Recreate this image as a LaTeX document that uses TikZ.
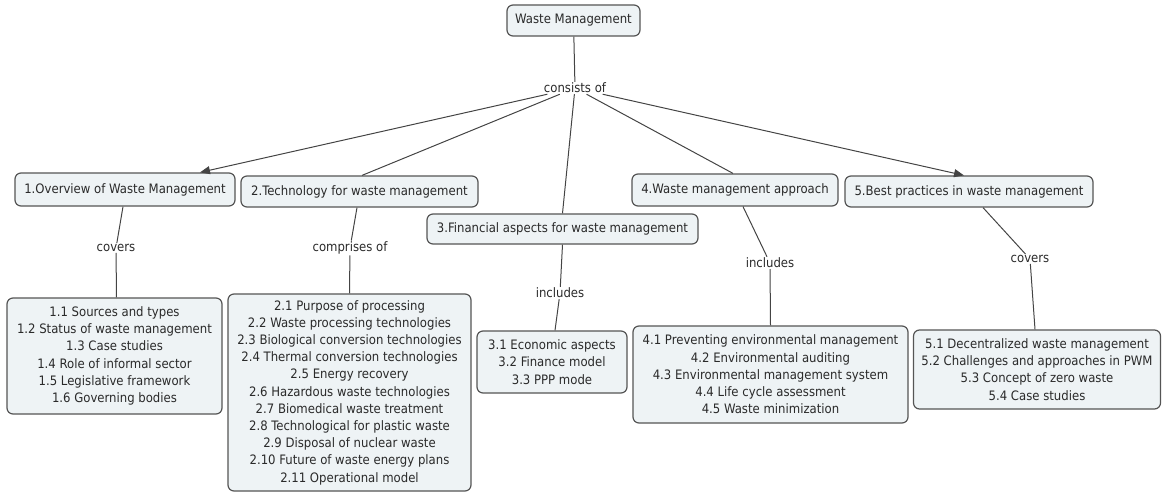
\documentclass[tikz,border=0pt]{standalone}
\usepackage{fontspec}
\setmainfont{DejaVu Sans Condensed}
\usetikzlibrary{arrows.meta}

\definecolor{boxfill}{HTML}{EEF3F5}
\definecolor{boxline}{HTML}{555555}
\definecolor{linkline}{HTML}{444444}
\definecolor{txt}{HTML}{2A2A2A}

\tikzset{
	concept/.style={draw=boxline, fill=boxfill, line width=1.2pt, rounded corners=6pt,
		align=center, text=txt, inner sep=2pt, font=\fontsize{13}{17.2}\selectfont},
	linkword/.style={text=txt, inner sep=1pt, font=\fontsize{13}{15}\selectfont},
	link/.style={draw=linkline, line width=1pt},
	tip/.style={-{Triangle[length=10pt,width=8pt]}}
}

\begin{document}
\begin{tikzpicture}[x=1pt, y=-1pt]
	\useasboundingbox (0,0) rectangle (1162,492);
	% 绘制顶部概念
	\node[concept, minimum width=133pt, minimum height=31pt] (wm) at (573.5,20.5) {Waste Management};
	\node[linkword] (cons) at (575,88) {consists of};
	
	% 绘制五个主题
	\node[concept, minimum width=220pt, minimum height=33pt] (ovw) at (125,189.5) {1.Overview of Waste Management};
	\node[concept, minimum width=237pt, minimum height=31pt] (tech) at (359.5,191.5) {2.Technology for waste management};
	\node[concept, minimum width=271pt, minimum height=30pt] (fin) at (562.5,229) {3.Financial aspects for waste management};
	\node[concept, minimum width=206pt, minimum height=32pt] (appr) at (735,190) {4.Waste management approach};
	\node[concept, minimum width=248pt, minimum height=31pt] (best) at (969,191.5) {5.Best practices in waste management};
	
	% 绘制连接词
	\node[linkword] (cov1) at (116,248) {covers};
	\node[linkword] (comp) at (350,248) {comprises of};
	\node[linkword] (inc3) at (560,293) {includes};
	\node[linkword] (inc4) at (770,263) {includes};
	\node[linkword] (cov5) at (1030,259) {covers};
	
	% 绘制子主题
	\node[concept, minimum width=215pt, minimum height=116pt] (ovwlist) at (114.5,356) {1.1 Sources and types\\1.2 Status of waste management\\1.3 Case studies\\1.4 Role of informal sector\\1.5 Legislative framework\\1.6 Governing bodies};
	\node[concept, minimum width=243pt, minimum height=197pt] (techlist) at (349.5,392.5) {2.1 Purpose of processing\\2.2 Waste processing technologies\\2.3 Biological conversion technologies\\2.4 Thermal conversion technologies\\2.5 Energy recovery\\2.6 Hazardous waste technologies\\2.7 Biomedical waste treatment\\2.8 Technological for plastic waste\\2.9 Disposal of nuclear waste\\2.10 Future of waste energy plans\\2.11 Operational model};
	\node[concept, minimum width=150pt, minimum height=62pt] (finlist) at (552,362) {3.1 Economic aspects\\3.2 Finance model\\3.3 PPP mode};
	\node[concept, minimum width=275pt, minimum height=97pt] (apprlist) at (770.5,374.5) {4.1 Preventing environmental management\\4.2 Environmental auditing\\4.3 Environmental management system\\4.4 Life cycle assessment\\4.5 Waste minimization};
	\node[concept, minimum width=247pt, minimum height=79pt] (bestlist) at (1037,369.5) {5.1 Decentralized waste management\\5.2 Challenges and approaches in PWM\\5.3 Concept of zero waste\\5.4 Case studies};
	
	% 绘制连线
	\draw[link] (wm) -- (cons);
	\draw[link, tip] (cons) -- ([xshift=75pt]ovw.north);
	\draw[link] (cons) -- ([xshift=2.5pt]tech.north);
	\draw[link] (cons) -- (fin.north);
	\draw[link] (cons) -- ([xshift=-2pt]appr.north);
	\draw[link, tip] (cons) -- ([xshift=-5pt]best.north);
	
	\draw[link] ([xshift=-2pt]ovw.south) -- (cov1) -- ([xshift=2pt]ovwlist.north);
	\draw[link] ([xshift=-2.5pt]tech.south) -- (comp) -- (techlist.north);
	\draw[link] (fin.south) -- (inc3) -- ([xshift=3pt]finlist.north);
	\draw[link] ([xshift=8pt]appr.south) -- (inc4) -- (apprlist.north);
	\draw[link] ([xshift=14pt]best.south) -- (cov5) -- ([xshift=-2pt]bestlist.north);
\end{tikzpicture}
\end{document}
